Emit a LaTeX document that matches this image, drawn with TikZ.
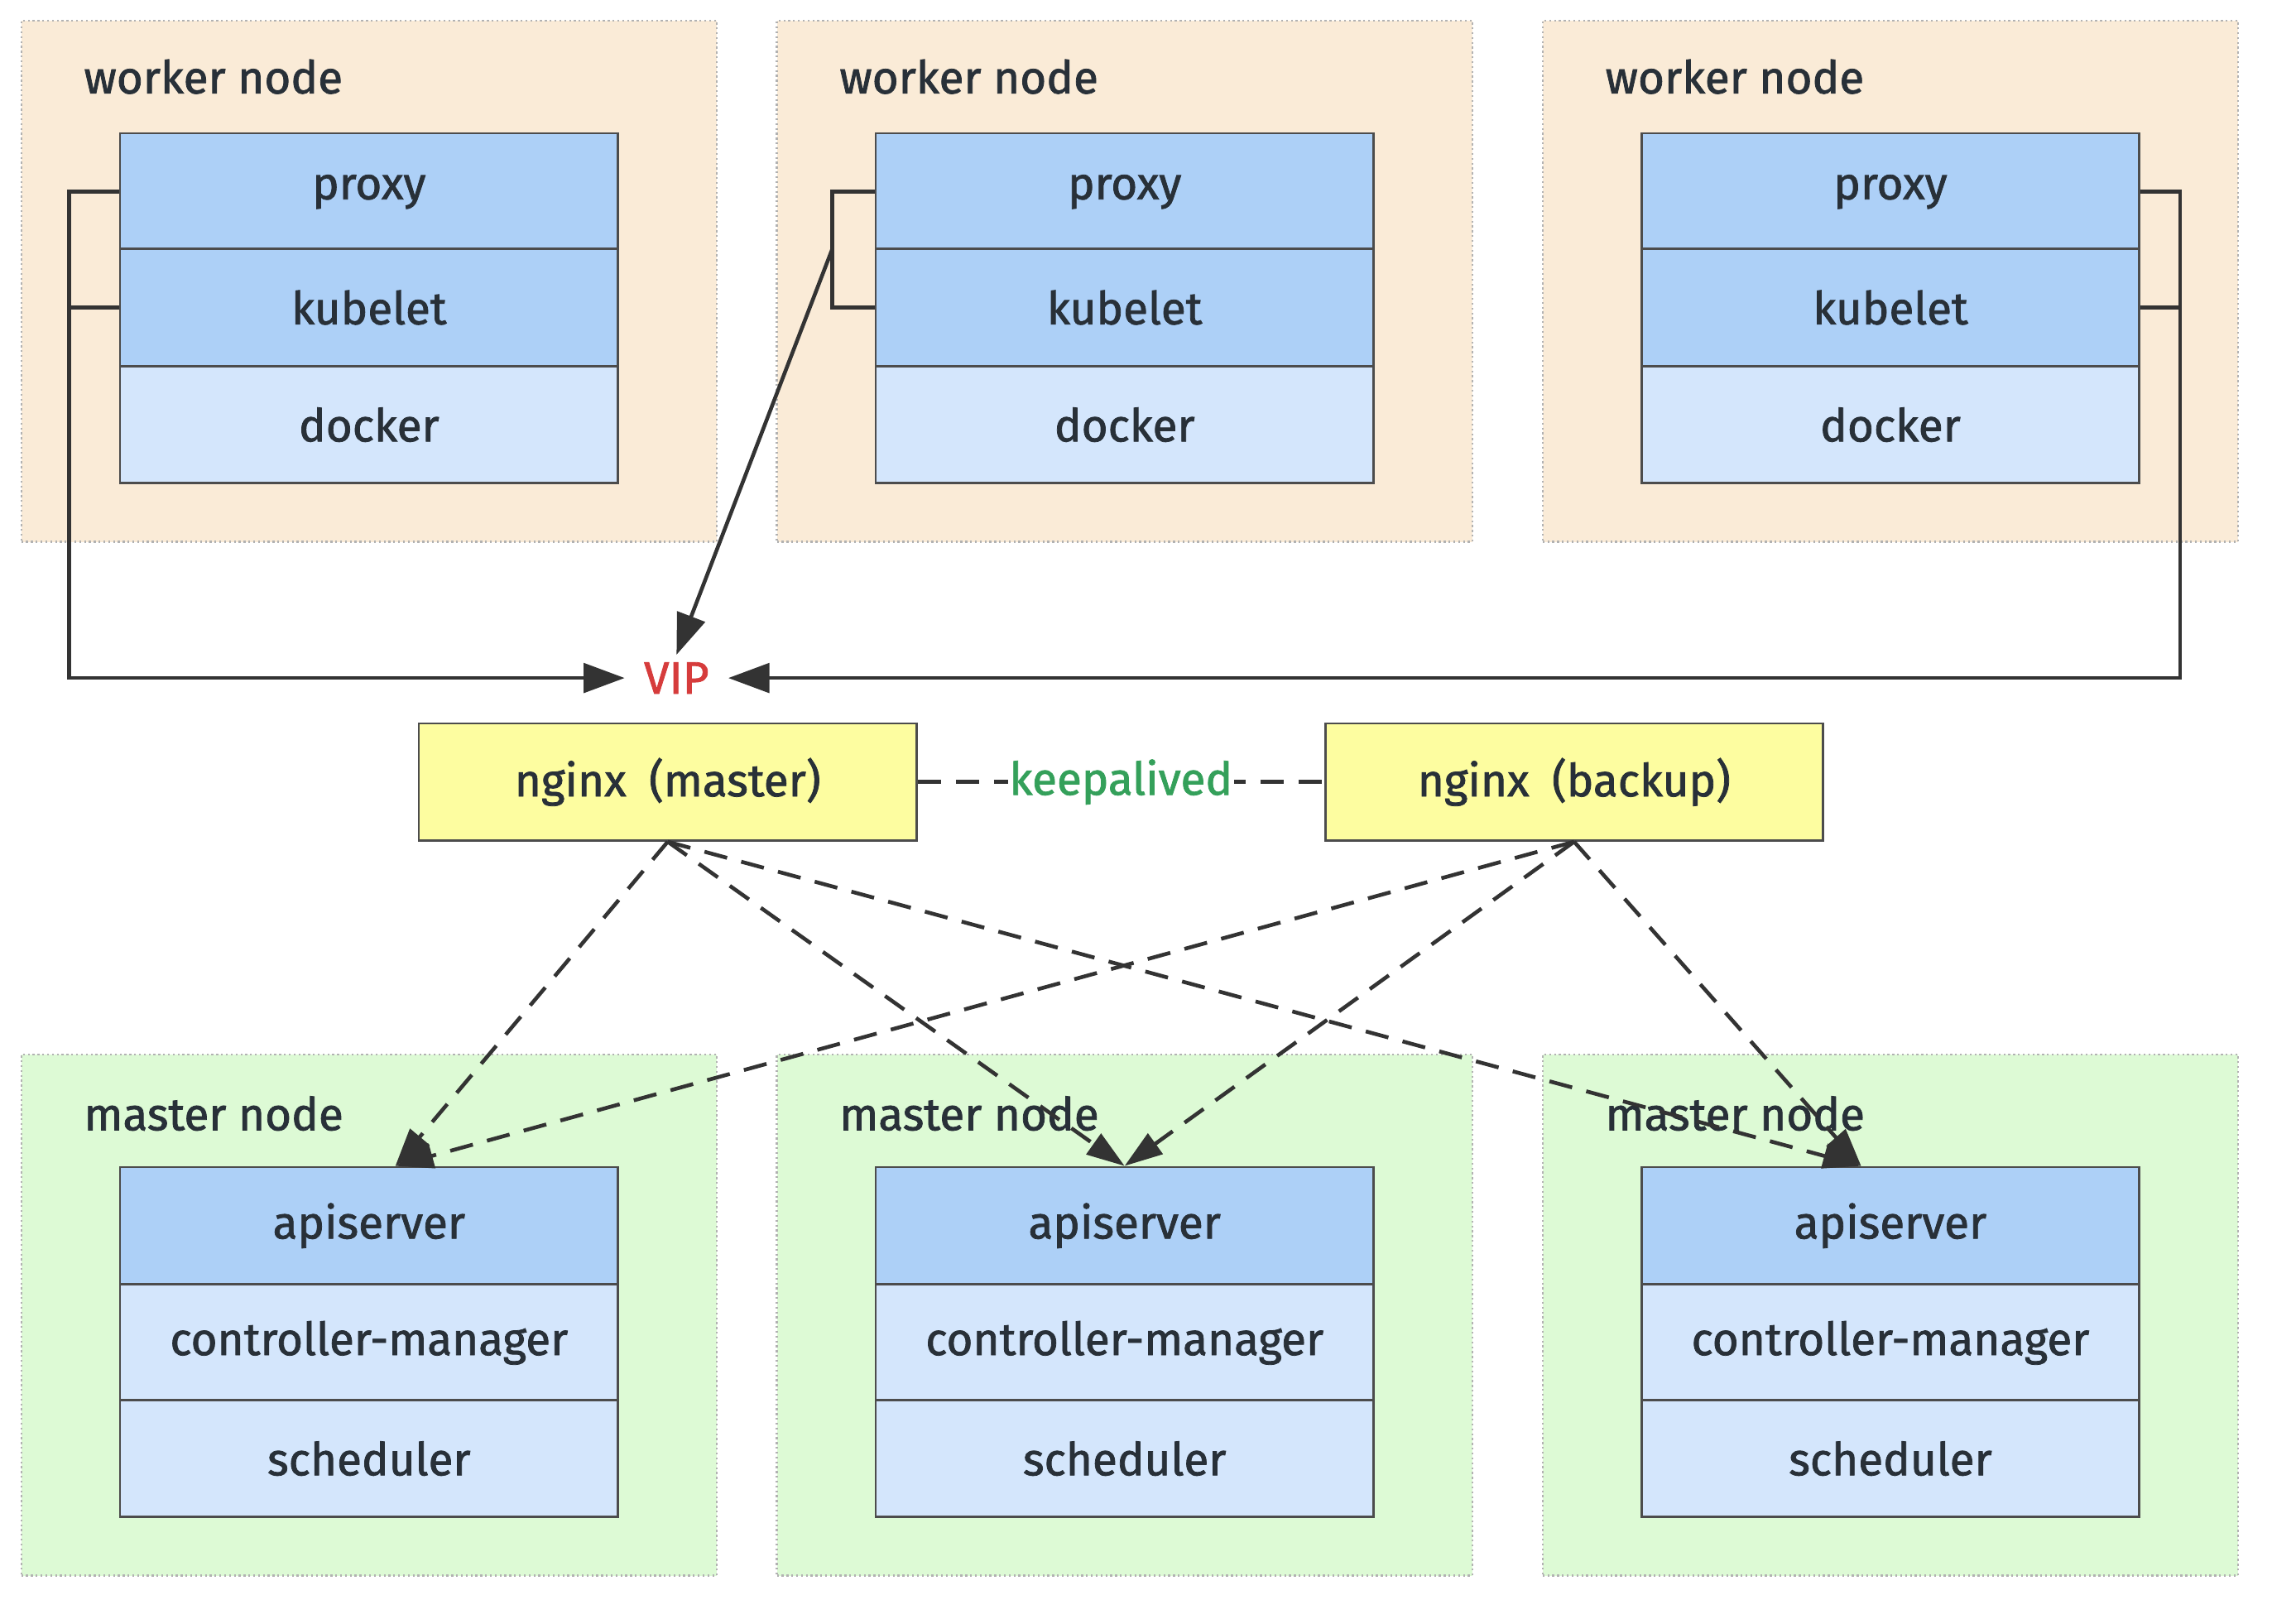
\documentclass[tikz,border=0pt]{standalone}
\usepackage{fontspec}
\setmainfont{Fira Sans}[FakeBold=1.4]
\usetikzlibrary{arrows.meta, calc}
\definecolor{workerfill}{RGB}{250,235,215}
\definecolor{masterfill}{RGB}{221,250,213}
\definecolor{darkrow}{RGB}{173,208,247}
\definecolor{lightrow}{RGB}{212,230,252}
\definecolor{lbfill}{RGB}{253,253,160}
\definecolor{linegray}{RGB}{51,51,51}
\definecolor{textdark}{RGB}{40,48,56}
\definecolor{vipred}{RGB}{214,60,60}
\definecolor{kagreen}{RGB}{52,160,90}
\tikzset{
    node-box/.style={
        draw=gray!60, dotted, line width=1.3pt, inner sep=0pt,
        minimum width=475pt, minimum height=356pt
    },
    worker-box/.style={node-box, fill=workerfill},
    master-box/.style={node-box, fill=masterfill},
    box-title/.style={
        anchor=west, text=textdark, font=\fontsize{31}{36}\selectfont
    },
    row/.style={
        draw=black!70, line width=1.6pt, inner sep=0pt,
        minimum width=340pt, minimum height=80pt,
        text=textdark, font=\fontsize{31}{36}\selectfont
    },
    dark-row/.style={row, fill=darkrow},
    light-row/.style={row, fill=lightrow},
    lb-box/.style={row, fill=lbfill},
    wire/.style={draw=linegray, line width=2.6pt},
    wire-arrow/.style={wire, -{Triangle[length=28pt, width=20pt]}},
    lb-arrow/.style={
        wire, dash pattern=on 16pt off 10pt,
        -{Triangle[length=26pt, width=17pt]}
    },
}

\begin{document}
\begin{tikzpicture}[x=1pt, y=-1pt]

        % CANVAS
        \fill[white] (0,0) rectangle (1568,1109);
        \useasboundingbox (0,0) rectangle (1568,1109);

        % WORKER NODES
        \node[worker-box]  (W1)       at (252,192)  {};
        \node[box-title]   (W1T)      at ($(W1.north west) + (40,39)$) {worker node};
        \node[dark-row]    (PROXY1)   at (252,131)  {proxy};
        \node[dark-row]    (KUBELET1) at (252,210)  {kubelet};
        \node[light-row]   (DOCKER1)  at (252,290)  {docker};

        \node[worker-box]  (W2)       at (768,192)  {};
        \node[box-title]   (W2T)      at ($(W2.north west) + (40,39)$) {worker node};
        \node[dark-row]    (PROXY2)   at (768,131)  {proxy};
        \node[dark-row]    (KUBELET2) at (768,210)  {kubelet};
        \node[light-row]   (DOCKER2)  at (768,290)  {docker};

        \node[worker-box]  (W3)       at (1291,192) {};
        \node[box-title]   (W3T)      at ($(W3.north west) + (40,39)$) {worker node};
        \node[dark-row]    (PROXY3)   at (1291,131) {proxy};
        \node[dark-row]    (KUBELET3) at (1291,210) {kubelet};
        \node[light-row]   (DOCKER3)  at (1291,290) {docker};

        % MASTER NODES
        \node[master-box]  (M1)       at (252,898)  {};
        \node[box-title]   (M1T)      at ($(M1.north west) + (40,41)$) {master node};
        \node[dark-row]    (API1)     at (252,837)  {apiserver};
        \node[light-row]   (CM1)      at (252,917)  {controller-manager};
        \node[light-row]   (SCHED1)   at (252,996)  {scheduler};

        \node[master-box]  (M2)       at (768,898)  {};
        \node[box-title]   (M2T)      at ($(M2.north west) + (40,41)$) {master node};
        \node[dark-row]    (API2)     at (768,837)  {apiserver};
        \node[light-row]   (CM2)      at (768,917)  {controller-manager};
        \node[light-row]   (SCHED2)   at (768,996)  {scheduler};

        \node[master-box]  (M3)       at (1291,898) {};
        \node[box-title]   (M3T)      at ($(M3.north west) + (40,41)$) {master node};
        \node[dark-row]    (API3)     at (1291,837) {apiserver};
        \node[light-row]   (CM3)      at (1291,917) {controller-manager};
        \node[light-row]   (SCHED3)   at (1291,996) {scheduler};

        % LOAD BALANCERS, VIP
        \node[lb-box]      (NGXM)     at (456,534)  {nginx\enspace(master)};
        \node[lb-box]      (NGXB)     at (1075,534) {nginx\enspace(backup)};
        \node[text=vipred, inner xsep=13pt, inner ysep=5pt,
              font=\fontsize{31}{36}\selectfont] (VIP) at (462,463) {VIP};

        % WORKER CONNECTIONS
        \draw[wire] (PROXY1.west) -- ++(-34,0) coordinate (W1BUS)
                    -- (W1BUS |- KUBELET1.west) -- (KUBELET1.west);
        \draw[wire-arrow] (W1BUS) |- (VIP.west);

        \draw[wire] (PROXY2.west) -- ++(-29,0) coordinate (W2BUS)
                    -- (W2BUS |- KUBELET2.west) -- (KUBELET2.west);
        \coordinate (W2MID) at ($(W2BUS)!.5!(W2BUS |- KUBELET2.west)$);
        \draw[wire-arrow] (W2MID) -- (VIP.north);

        \draw[wire] (PROXY3.east) -- ++(27,0) coordinate (W3BUS)
                    -- (W3BUS |- KUBELET3.east) -- (KUBELET3.east);
        \draw[wire-arrow] (W3BUS) |- (VIP.east);

        % KEEPALIVED
        \draw[wire, dash pattern=on 16pt off 10pt] (NGXM.east) -- node[fill=white, inner sep=1pt,
              text=kagreen, font=\fontsize{31}{36}\selectfont] (KA) {keepalived} (NGXB.west);

        % LOAD BALANCER CONNECTIONS
        \draw[lb-arrow] (NGXM.south) -- ([xshift=18pt]API1.north);
        \draw[lb-arrow] (NGXM.south) -- (API2.north);
        \draw[lb-arrow] (NGXM.south) -- ([xshift=-20pt]API3.north);
        \draw[lb-arrow] (NGXB.south) -- ([xshift=18pt]API1.north);
        \draw[lb-arrow] (NGXB.south) -- (API2.north);
        \draw[lb-arrow] (NGXB.south) -- ([xshift=-20pt]API3.north);

    \end{tikzpicture}
\end{document}
